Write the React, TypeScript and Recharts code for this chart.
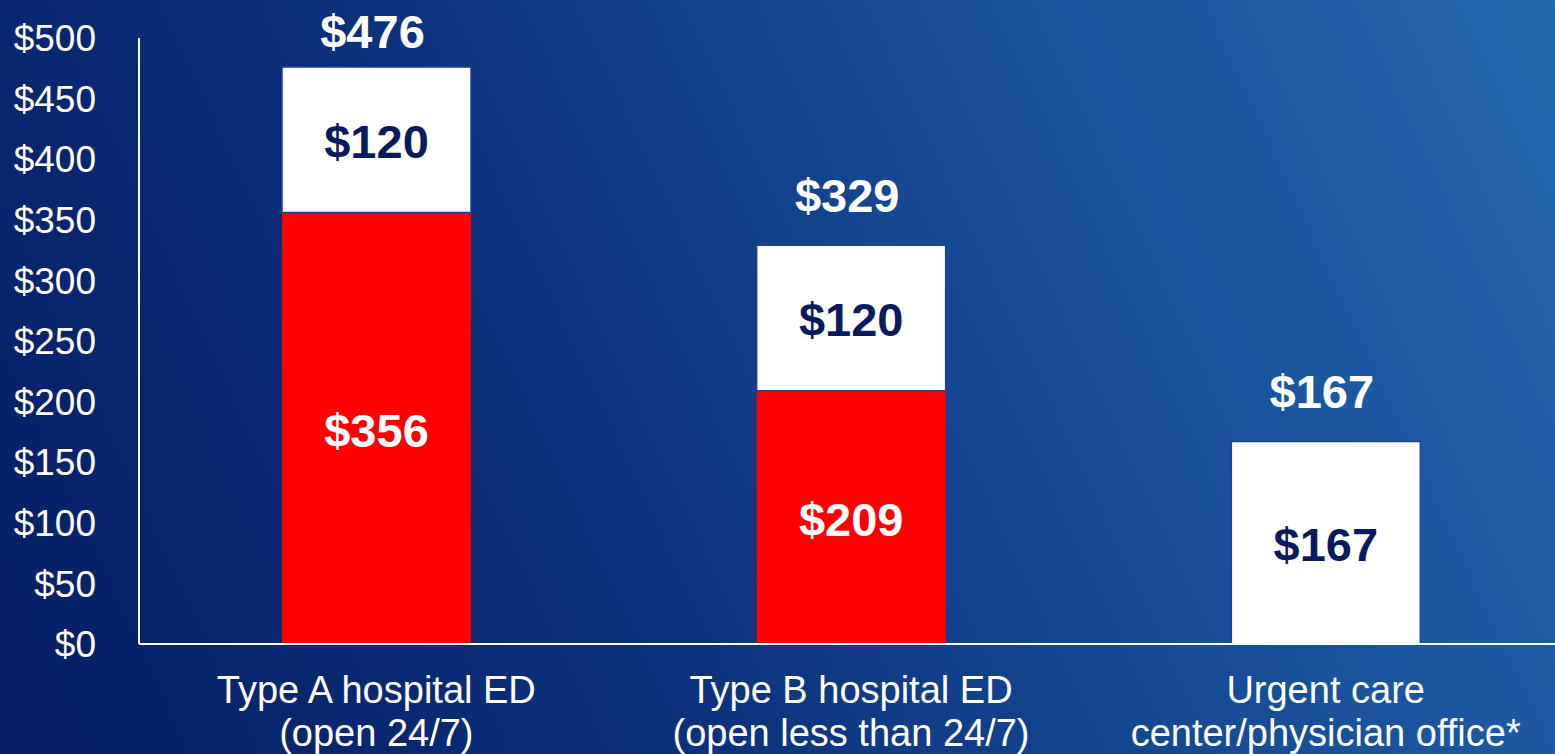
import React from "react";
import { BarChart, Bar, XAxis, YAxis, LabelList } from "recharts";

const categories = ["Type A hospital ED\n(open 24/7)", "Type B hospital ED\n(open less than 24/7)", "Urgent care\ncenter/physician office*"];
const edPart = [356, 209, 0];
const feePart = [120, 120, 167];
const totals = [476, 329, 167];
const yTicks = [0, 50, 100, 150, 200, 250, 300, 350, 400, 450, 500];

const data = categories.map((c, i) => ({ name: c, ed: edPart[i], fee: feePart[i], total: totals[i] }));

const FONT = "'Liberation Sans', Arial, sans-serif";
const NAVY = "#0a1a5e";

const CatTick = (props: any) => {
  const { x, y, payload } = props;
  const lines = String(payload.value).split("\n");
  return (
    <text x={x} y={y} textAnchor="middle" fill="#ffffff" fontSize={38} fontFamily={FONT}>
      {lines.map((l: string, i: number) => (
        <tspan key={i} x={x} y={y + 59 + i * 43}>{l}</tspan>
      ))}
    </text>
  );
};

const InnerLabel = (color: string) => (props: any) => {
  const { x, y, width, height, value } = props;
  if (!value) return null;
  return (
    <text x={x + width / 2} y={y + height / 2 + 2} textAnchor="middle" dominantBaseline="central" fill={color} fontSize={47} fontWeight="bold" fontFamily={FONT}>
      {"$" + value}
    </text>
  );
};

const TotalLabel = (props: any) => {
  const { x, y, width, index } = props;
  const cy = Math.max(y - 50, 31);
  return (
    <text x={x + width / 2 - 4} y={cy} textAnchor="middle" dominantBaseline="central" fill="#ffffff" fontSize={47} fontWeight="bold" fontFamily={FONT}>
      {"$" + totals[index]}
    </text>
  );
};

export default function App() {
  return (
    <div style={{ position: "absolute", left: 0, top: 0, width: 1555, height: 754, overflow: "hidden", background: "linear-gradient(65deg, #061e64 0%, #0c2f7a 35%, #1a529c 72%, #2468ae 100%)" }}>
      <BarChart width={1563} height={754} data={data} margin={{ top: 38, right: 0, bottom: 0, left: 0 }} barSize={189}>
        <XAxis dataKey="name" height={110} tickLine={false} tickSize={0} tickMargin={0} interval={0} axisLine={{ stroke: "#ffffff", strokeWidth: 2 }} tick={<CatTick />} />
        <YAxis width={139} domain={[0, 500]} ticks={yTicks} tickLine={false} tickSize={0} tickMargin={43} axisLine={{ stroke: "#ffffff", strokeWidth: 2 }} tickFormatter={(v: number) => "$" + v} tick={{ fill: "#ffffff", fontSize: 37, fontFamily: FONT }} />
        <Bar dataKey="ed" stackId="a" fill="#ff0000" isAnimationActive={false}>
          <LabelList dataKey="ed" content={InnerLabel("#ffffff")} />
        </Bar>
        <Bar dataKey="fee" stackId="a" fill="#ffffff" stroke="#1d40a0" strokeWidth={1.5} isAnimationActive={false}>
          <LabelList dataKey="fee" content={InnerLabel(NAVY)} />
          <LabelList dataKey="total" content={TotalLabel} />
        </Bar>
      </BarChart>
    </div>
  );
}
